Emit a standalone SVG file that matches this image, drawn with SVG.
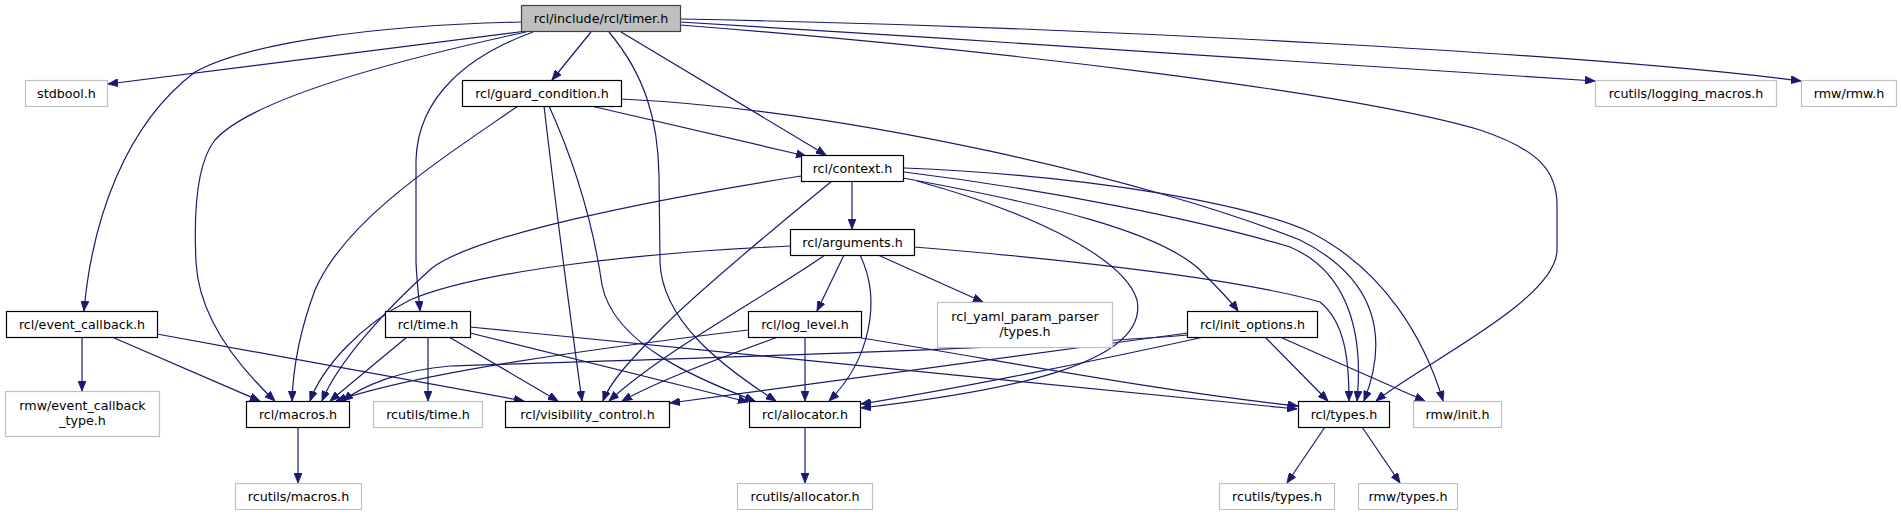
<svg xmlns="http://www.w3.org/2000/svg" width="1901" height="515" viewBox="0 0 1901 515">
<style>
.n rect{fill:#ffffff;stroke:#000000;stroke-width:1.2}
.x rect{fill:#ffffff;stroke:#bfbfbf;stroke-width:1.2}
.r rect{fill:#bfbfbf;stroke:#404040;stroke-width:1.2}
text{font-family:"DejaVu Sans","Liberation Sans",sans-serif;font-size:12.7px;fill:#000000;text-anchor:middle}
.e path{fill:none;stroke:#191970;stroke-width:1.2;marker-end:url(#a)}
</style>
<defs>
<marker id="a" markerUnits="userSpaceOnUse" markerWidth="10" markerHeight="8" refX="10" refY="4" orient="auto">
<path d="M0,0 L10,4 L0,8 z" fill="#191970" stroke="#191970" stroke-width="0.8"/>
</marker>
</defs>
<rect width="1901" height="515" fill="#ffffff"/>
<g class="e" id="edges">
<path d="M527,31 L108,84"/>
<path d="M521,22 C380,25 250,42 195,72 C125,125 92,220 84,311"/>
<path d="M526,32 C420,55 255,95 215,140 C195,165 194,220 196,262 C199,320 240,368 275,401"/>
<path d="M533,32 C470,55 418,95 416,160 L416,262 C417,285 419,298 420,311"/>
<path d="M591,32 L552,80"/>
<path d="M609,32 C645,75 658,120 659,175 L660,262 C662,320 720,365 776,401"/>
<path d="M621,32 L826,155"/>
<path d="M680,25 C1000,50 1350,92 1480,130 C1540,150 1557,172 1557,205 L1557,250 C1557,300 1420,365 1376,401"/>
<path d="M680,22 C1000,42 1380,65 1595,81"/>
<path d="M680,19 C1100,27 1600,55 1801,81"/>
<path d="M591,106 L806,156"/>
<path d="M518,106 C440,160 345,220 315,290 C300,330 293,370 292,401"/>
<path d="M544,106 C555,200 568,300 582,401"/>
<path d="M549,106 C578,170 594,230 602,285 C614,345 700,380 755,401"/>
<path d="M621,99 C850,110 1150,180 1300,240 C1370,275 1392,330 1364,401"/>
<path d="M852,181 L852,229"/>
<path d="M917,181 C1040,215 1125,260 1137,300 C1150,365 1000,392 861,408"/>
<path d="M903,178 C1050,205 1160,232 1200,270 C1218,288 1230,300 1238,311"/>
<path d="M801,176 C650,200 475,235 432,268 C385,310 338,362 322,401"/>
<path d="M832,181 C760,240 700,290 665,325 C630,360 610,382 603,401"/>
<path d="M904,172 C1050,190 1200,220 1290,247 C1340,268 1365,320 1357,401"/>
<path d="M904,168 C1100,176 1250,205 1310,232 C1385,270 1425,340 1443,401"/>
<path d="M844,255 L817,311"/>
<path d="M878,255 L983,302"/>
<path d="M860,255 C882,300 870,360 829,401"/>
<path d="M825,255 C760,300 665,350 609,401"/>
<path d="M791,246 C650,252 480,270 410,300 C360,325 322,368 310,401"/>
<path d="M914,247 C1100,262 1250,282 1320,302 C1345,322 1349,360 1349,401"/>
<path d="M805,337 L805,401"/>
<path d="M778,337 C720,358 660,380 622,401"/>
<path d="M748,330 C600,348 420,372 336,401"/>
<path d="M861,338 C1000,360 1150,390 1298,406"/>
<path d="M1265,337 L1328,401"/>
<path d="M1280,337 L1425,401"/>
<path d="M1204,337 C1100,360 960,388 861,404"/>
<path d="M1188,333 C1000,358 800,386 670,403"/>
<path d="M1188,335 C1000,350 700,358 450,366 C400,370 362,386 343,401"/>
<path d="M428,337 L428,401"/>
<path d="M407,337 L330,401"/>
<path d="M449,337 L558,401"/>
<path d="M470,333 L748,402"/>
<path d="M470,327 L1297,409"/>
<path d="M82,337 L82,391"/>
<path d="M112,337 L260,401"/>
<path d="M157,334 L524,401"/>
<path d="M298,427 L298,483"/>
<path d="M805,427 L805,483"/>
<path d="M1325,427 L1287,483"/>
<path d="M1362,427 L1400,483"/>
</g>
<g id="timer" class="r"><rect x="521.5" y="5.5" width="159" height="26"/><text x="601" y="23">rcl/include/rcl/timer.h</text></g>
<g id="stdbool" class="x"><rect x="25.5" y="80.5" width="82" height="26"/><text x="66.5" y="98">stdbool.h</text></g>
<g id="guard_condition" class="n"><rect x="462.5" y="80.5" width="159" height="26"/><text x="542" y="98">rcl/guard_condition.h</text></g>
<g id="logging_macros" class="x"><rect x="1595.5" y="80.5" width="181" height="26"/><text x="1686" y="98">rcutils/logging_macros.h</text></g>
<g id="rmw_rmw" class="x"><rect x="1801.5" y="80.5" width="95" height="26"/><text x="1849" y="98">rmw/rmw.h</text></g>
<g id="context" class="n"><rect x="801.5" y="155.5" width="102" height="26"/><text x="852.5" y="173">rcl/context.h</text></g>
<g id="arguments" class="n"><rect x="790.5" y="229.5" width="124" height="26"/><text x="852.5" y="247">rcl/arguments.h</text></g>
<g id="event_callback" class="n"><rect x="6.5" y="311.5" width="151" height="26"/><text x="82" y="329">rcl/event_callback.h</text></g>
<g id="time" class="n"><rect x="385.5" y="311.5" width="85" height="26"/><text x="428" y="329">rcl/time.h</text></g>
<g id="log_level" class="n"><rect x="748.5" y="311.5" width="113" height="26"/><text x="805" y="329">rcl/log_level.h</text></g>
<g id="yaml_types" class="x"><rect x="937.5" y="302.5" width="175" height="45"/><text x="1025" y="321">rcl_yaml_param_parser</text><text x="1025" y="336">/types.h</text></g>
<g id="init_options" class="n"><rect x="1187.5" y="311.5" width="130" height="26"/><text x="1252.5" y="329">rcl/init_options.h</text></g>
<g id="event_callback_type" class="x"><rect x="5.5" y="391.5" width="154" height="45"/><text x="82.5" y="410">rmw/event_callback</text><text x="82.5" y="425">_type.h</text></g>
<g id="macros" class="n"><rect x="246.5" y="401.5" width="103" height="26"/><text x="298" y="419">rcl/macros.h</text></g>
<g id="rcutils_time" class="x"><rect x="373.5" y="401.5" width="109" height="26"/><text x="428" y="419">rcutils/time.h</text></g>
<g id="visibility_control" class="n"><rect x="505.5" y="401.5" width="164" height="26"/><text x="587.5" y="419">rcl/visibility_control.h</text></g>
<g id="allocator" class="n"><rect x="749.5" y="401.5" width="111" height="26"/><text x="805" y="419">rcl/allocator.h</text></g>
<g id="types" class="n"><rect x="1298.5" y="401.5" width="91" height="26"/><text x="1344" y="419">rcl/types.h</text></g>
<g id="rmw_init" class="x"><rect x="1413.5" y="401.5" width="88" height="26"/><text x="1457.5" y="419">rmw/init.h</text></g>
<g id="rcutils_macros" class="x"><rect x="235.5" y="483.5" width="126" height="26"/><text x="298.5" y="501">rcutils/macros.h</text></g>
<g id="rcutils_allocator" class="x"><rect x="737.5" y="483.5" width="135" height="26"/><text x="805" y="501">rcutils/allocator.h</text></g>
<g id="rcutils_types" class="x"><rect x="1219.5" y="483.5" width="115" height="26"/><text x="1277" y="501">rcutils/types.h</text></g>
<g id="rmw_types" class="x"><rect x="1358.5" y="483.5" width="99" height="26"/><text x="1408" y="501">rmw/types.h</text></g>
</svg>
